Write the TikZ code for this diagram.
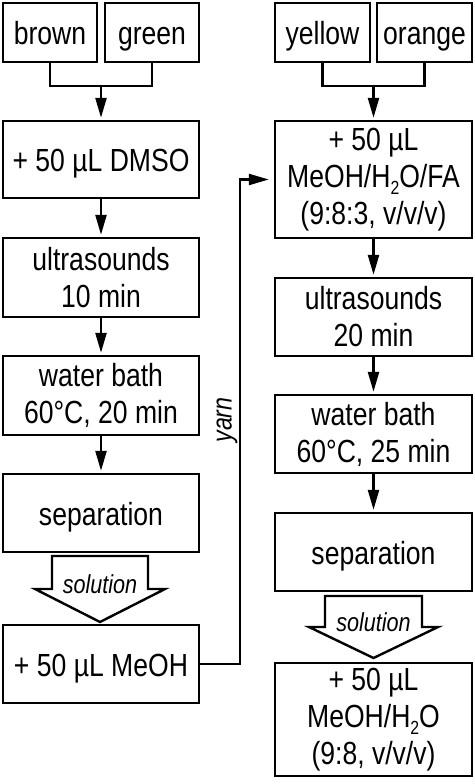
\documentclass[tikz,border=0pt]{standalone}
\usepackage{fontspec}
\setmainfont{Liberation Sans}[FakeStretch=0.83]
\usetikzlibrary{arrows.meta}
\tikzset{
  box/.style={draw, line width=2.4pt, inner sep=0pt, align=center, font=\fontsize{32}{37}\selectfont},
  one/.style={text height=24pt, text depth=0pt},
  lbox/.style={box, minimum width=196pt},
  rbox/.style={box, minimum width=197pt},
  link/.style={line width=2.4pt},
  arr/.style={line width=2.4pt, -{Triangle[length=20pt,width=11pt]}, shorten >=2pt},
  hollow/.style={draw, line width=2.4pt, fill=white, line join=miter},
  lbl/.style={font=\fontsize{26}{26}\selectfont\itshape, inner sep=0pt}
}
\newcommand{\subtwo}{\raisebox{-0.22em}{\fontsize{19}{19}\selectfont 2}}
\begin{document}
\begin{tikzpicture}[x=1pt,y=-1pt]
\useasboundingbox (0,0) rectangle (474,784);
% top boxes
\node[box, one, minimum width=94pt, minimum height=59pt] (brown) at (50,32.5) {brown};
\node[box, one, minimum width=94pt, minimum height=59pt] (green) at (152,32.5) {green};
\node[box, one, minimum width=95pt, minimum height=59pt] (yellow) at (322.5,32.5) {yellow};
\node[box, one, minimum width=95pt, minimum height=59pt] (orange) at (424.5,32.5) {orange};
% left column
\node[lbox, one, minimum height=77pt] (dmso) at (101,159.5) {+ 50 µL DMSO};
\node[lbox, minimum height=79pt] (us1) at (101,277.5) {ultrasounds\\10 min};
\node[lbox, minimum height=79pt] (wb1) at (101,395.5) {water bath\\60°C, 20 min};
\node[lbox, one, minimum height=78pt] (sep1) at (101,513) {separation};
\node[lbox, one, minimum height=78pt] (meoh1) at (101,664) {+ 50 µL MeOH};
% right column
\node[rbox, minimum height=117pt] (mfa) at (373.5,179.5) {+ 50 µL\\MeOH/H\subtwo O/FA\\(9:8:3, v/v/v)};
\node[rbox, minimum height=78pt] (us2) at (373.5,317) {ultrasounds\\20 min};
\node[rbox, minimum height=78pt] (wb2) at (373.5,434) {water bath\\60°C, 25 min};
\node[rbox, one, minimum height=78pt] (sep2) at (373.5,552) {separation};
\node[rbox, minimum height=113pt] (fin) at (373.5,719.5) {+ 50 µL\\MeOH/H\subtwo O\\(9:8, v/v/v)};
% merges
\coordinate (jl) at (101,86);
\coordinate (jr) at (373.5,86);
\draw[link] (brown.south) |- (jl) -| (green.south);
\draw[arr] (jl) -- (dmso.north);
\draw[link] (yellow.south) |- (jr) -| (orange.south);
\draw[arr] (jr) -- (mfa.north);
% vertical arrows
\draw[arr] (dmso.south) -- (us1.north);
\draw[arr] (us1.south) -- (wb1.north);
\draw[arr] (wb1.south) -- (sep1.north);
\draw[arr] (mfa.south) -- (us2.north);
\draw[arr] (us2.south) -- (wb2.north);
\draw[arr] (wb2.south) -- (sep2.north);
% hollow arrows
\draw[hollow] (52,556) -- (148,556) -- (148,589) -- (165,589) -- (100,622) -- (35,589) -- (52,589) -- cycle;
\node[lbl] (sol1) at (100,584) {solution};
\draw[hollow] (325,596) -- (422,596) -- (422,627) -- (438,627) -- (373.5,658) -- (309,627) -- (325,627) -- cycle;
\node[lbl] (sol2) at (373.5,622) {solution};
% yarn
\coordinate (yb) at (240,400);
\draw[arr, shorten >=5pt] (meoh1.east) -- (meoh1.east -| yb) |- (mfa.west);
\node[lbl, rotate=90, font=\fontsize{28}{28}\selectfont\itshape] (yarn) at (227,420) {yarn};
\end{tikzpicture}
\end{document}
